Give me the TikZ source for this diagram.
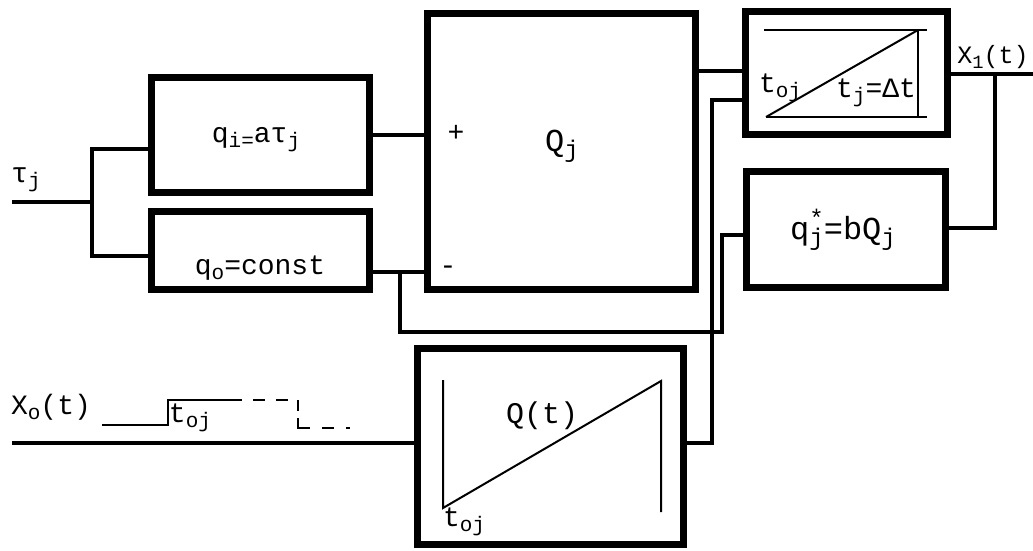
\documentclass[tikz,border=0pt]{standalone}
\usepackage{fontspec}
\setmainfont{Liberation Mono}
\newcommand\sbs[1]{\raisebox{-0.35ex}{\fontsize{0.75\dimexpr\fontdimen6\font\relax}{1em}\selectfont #1}}
\newcommand\sps[1]{\raisebox{0.75ex}{\fontsize{0.75\dimexpr\fontdimen6\font\relax}{1em}\selectfont #1}}
\begin{document}
\begin{tikzpicture}[x=1pt,y=-1pt,
  blk/.style={draw, line width=7pt, inner sep=0pt},
  wire/.style={line width=4pt},
  fine/.style={line width=2pt},
  pulse/.style={line width=2.5pt},
  lbl/.style={inner sep=0pt, font=\fontsize{28}{30}\selectfont},
  big/.style={inner sep=0pt, font=\fontsize{32}{34}\selectfont},
  mid/.style={inner sep=0pt, font=\fontsize{30}{32}\selectfont},
  small/.style={inner sep=0pt, font=\fontsize{25}{27}\selectfont}]
\useasboundingbox[fill=white] (0,0) rectangle (1033,550);
% blocks
\node[blk, minimum width=218pt, minimum height=115pt] (qi) at (260.5,135) {};
\node[blk, minimum width=218pt, minimum height=78pt] (qo) at (260.5,250.5) {};
\node[blk, minimum width=268pt, minimum height=276pt] (Q) at (561.5,151.5) {};
\node[blk, minimum width=202pt, minimum height=123pt] (tm) at (846.5,73) {};
\node[blk, minimum width=199pt, minimum height=116pt] (qs) at (846,229.5) {};
\node[blk, minimum width=266pt, minimum height=196pt] (Qt) at (550.5,446.5) {};
% coordinates
\coordinate (tin) at (12,202);
\coordinate (fork) at (92,202);
\coordinate (forkT) at (92,149);
\coordinate (forkB) at (92,256);
\coordinate (mj) at (400,272);
\coordinate (lp1) at (400,332);
\coordinate (lp2) at (722,332);
\coordinate (lp3) at (722,235);
\coordinate (qo1) at (720,71);
\coordinate (qt1) at (712,443);
\coordinate (qt2) at (712,100);
\coordinate (xout) at (1033,74);
\coordinate (br) at (995,74);
\coordinate (br2) at (995,228);
\coordinate (xin) at (12,443);
% wires
\draw[wire] (tin) -- (fork);
\draw[wire] (qi.west |- forkT) -- (forkT) -- (forkB) -- (qo.west |- forkB);
\draw[wire] (qi.east) -- (Q.west |- qi.east);
\draw[wire] (qo.east |- mj) -- (Q.west |- mj);
\draw[wire] (mj) -- (lp1) -- (lp2) -- (lp3) -- (qs.west |- lp3);
\draw[wire] (Q.east |- qo1) -- (tm.west |- qo1);
\draw[wire] (Qt.east |- qt1) -- (qt1) -- (qt2) -- (tm.west |- qt2);
\draw[wire] (tm.east |- xout) -- (xout);
\draw[wire] (br) -- (br2) -- (qs.east |- br2);
\draw[wire] (xin) -- (Qt.west |- xin);
% timer inner graph
\coordinate (ta) at (764,30);
\coordinate (tb) at (927,30);
\coordinate (tc) at (766,117);
\coordinate (td) at (927,117);
\coordinate (te) at (918,30);
\coordinate (tf) at (918,117);
\draw[fine] (ta) -- (tb);
\draw[fine] (tc) -- (td);
\draw[fine] (te) -- (tf);
\draw[fine] (tc) -- (te);
% Q(t) inner graph
\coordinate (ga) at (443,380);
\coordinate (gb) at (443,508);
\coordinate (gc) at (661,381);
\coordinate (gd) at (661,512);
\draw[fine] (ga) -- (gb) -- (gc) -- (gd);
% pulse
\coordinate (p0) at (102,425);
\coordinate (p1) at (168,425);
\coordinate (p2) at (168,400);
\coordinate (p3) at (230,400);
\coordinate (p4) at (298,400);
\coordinate (p5) at (298,428);
\coordinate (p6) at (350,428);
\draw[pulse] (p0) -- (p1) -- (p2) -- (p3);
\draw[pulse, dash pattern=on 12pt off 11pt] (p3) -- (p4);
\draw[pulse] (p4) -- ++(0,11);
\draw[pulse] (298,418) -- (p5) -- ++(10,0);
\draw[pulse, dash pattern=on 12pt off 12pt, dash phase=-14pt] (p5) ++(10,0) -- (p6);
% labels
\node[lbl] (ltau) at (26,180) {τ\sbs{j}};
\node[lbl] (lqi) at (256,140) {q\sbs{i=}aτ\sbs{j}};
\node[lbl] (lqo) at (260,268) {q\sbs{o}=const};
\node[lbl] (lplus) at (456,133) {+};
\node[lbl] (lminus) at (448,270) {-};
\node[big] (lQ) at (562,146) {Q\sbs{j}};
\node[lbl] (lt1) at (780,88) {t\sbs{oj}};
\node[lbl] (ltj) at (876,93) {t\sbs{j}=Δt};
\node[small] (lx1) at (993,57) {X\sbs{1}(t)};
\node[big] (lqs) at (843,230) {q\sbs{j}\hspace{-0.45em}\sps{*}=bQ\sbs{j}};
\node[lbl] (lxo) at (51,407) {X\sbs{o}(t)};
\node[lbl] (lt2) at (190,418) {t\sbs{oj}};
\node[mid] (lQt) at (542,416) {Q(t)};
\node[lbl] (lt3) at (464,522) {t\sbs{oj}};
\end{tikzpicture}
\end{document}
